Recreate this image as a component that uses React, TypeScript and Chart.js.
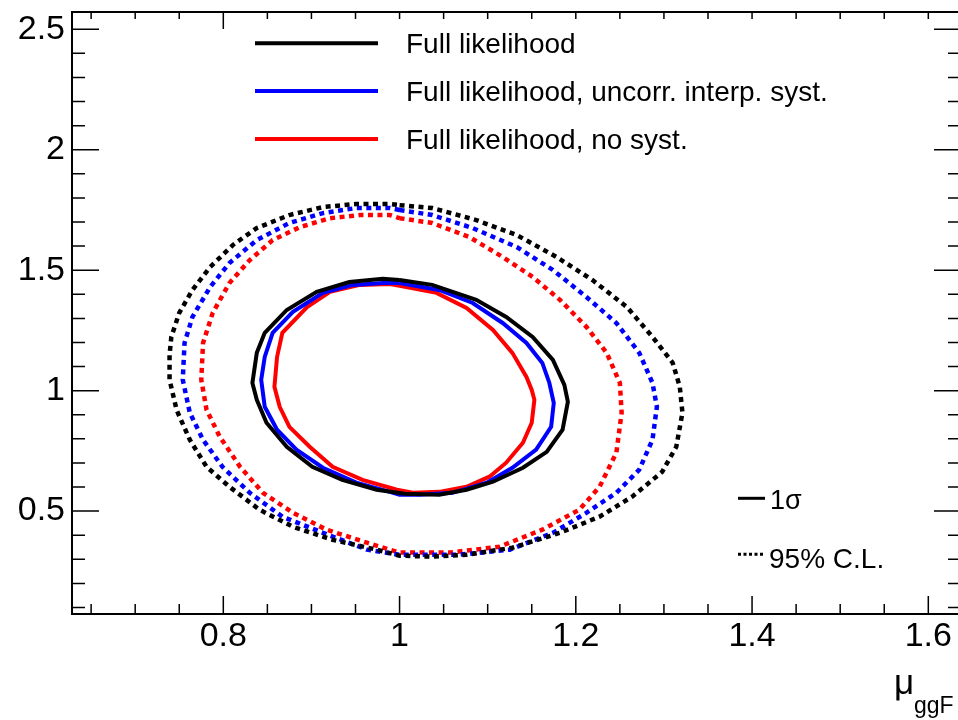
import React, { useEffect, useRef } from "react";
import { Chart, registerables } from "chart.js";

Chart.register(...registerables);

// ---------- axis ranges & ticks ----------
const X_MIN = 0.6283;
const X_MAX = 1.6371;
const Y_MIN = 0.073;
const Y_MAX = 2.5717;
const X_TICKS = [0.8, 1.0, 1.2, 1.4, 1.6];
const Y_TICKS = [0.5, 1.0, 1.5, 2.0, 2.5];
const X_MINOR_TICKS = [0.65, 0.7, 0.75, 0.8, 0.85, 0.9, 0.95, 1.0, 1.05, 1.1, 1.15, 1.2, 1.25, 1.3, 1.35, 1.4, 1.45, 1.5, 1.55, 1.6];
const Y_MINOR_TICKS = [0.1, 0.2, 0.3, 0.4, 0.5, 0.6, 0.7, 0.8, 0.9, 1.0, 1.1, 1.2, 1.3, 1.4, 1.5, 1.6, 1.7, 1.8, 1.9, 2.0, 2.1, 2.2, 2.3, 2.4, 2.5];
const TOP_LONG_TICKS = [0.8];

// ---------- legend ----------
const LEGEND_LABELS = [
  "Full likelihood",
  "Full likelihood, uncorr. interp. syst.",
  "Full likelihood, no syst.",
];
const SERIES_COLORS = ["#000000", "#0000ff", "#ff0000"];
const SOLID_LABEL = "1σ";
const DOTTED_LABEL = "95% C.L.";

// ---------- contours: full likelihood ----------
const FULL_1S_X = [1.000, 1.037, 1.087, 1.121, 1.151, 1.174, 1.187, 1.191, 1.185, 1.167, 1.140, 1.106, 1.076, 1.045, 1.006, 0.974, 0.935, 0.901, 0.872, 0.849, 0.838, 0.833, 0.838, 0.847, 0.872, 0.906, 0.943, 0.981];
const FULL_1S_Y = [1.459, 1.439, 1.377, 1.306, 1.223, 1.128, 1.024, 0.954, 0.838, 0.746, 0.680, 0.622, 0.589, 0.568, 0.572, 0.589, 0.630, 0.684, 0.767, 0.867, 0.962, 1.032, 1.157, 1.240, 1.335, 1.410, 1.451, 1.464];
const FULL_95_X = [1.000, 1.037, 1.087, 1.133, 1.178, 1.219, 1.258, 1.287, 1.310, 1.318, 1.321, 1.314, 1.298, 1.264, 1.227, 1.182, 1.128, 1.076, 1.037, 1.000, 0.974, 0.924, 0.879, 0.841, 0.807, 0.781, 0.762, 0.747, 0.739, 0.739, 0.741, 0.750, 0.765, 0.785, 0.811, 0.838, 0.875, 0.913, 0.951, 0.989];
const FULL_95_Y = [1.770, 1.758, 1.708, 1.646, 1.555, 1.459, 1.347, 1.223, 1.115, 1.016, 0.908, 0.767, 0.663, 0.560, 0.477, 0.410, 0.348, 0.319, 0.311, 0.315, 0.340, 0.381, 0.435, 0.506, 0.601, 0.684, 0.796, 0.920, 1.045, 1.148, 1.223, 1.323, 1.418, 1.513, 1.605, 1.675, 1.729, 1.762, 1.775, 1.775];

// ---------- contours: uncorrelated interpolation systematics ----------
const UNCORR_1S_X = [1.000, 1.045, 1.083, 1.117, 1.144, 1.162, 1.170, 1.175, 1.172, 1.155, 1.128, 1.099, 1.060, 1.023, 1.000, 0.989, 0.951, 0.913, 0.883, 0.861, 0.847, 0.843, 0.847, 0.856, 0.879, 0.913, 0.947, 0.981];
const UNCORR_1S_Y = [1.447, 1.418, 1.364, 1.281, 1.198, 1.115, 1.032, 0.949, 0.850, 0.755, 0.680, 0.618, 0.576, 0.568, 0.568, 0.580, 0.618, 0.680, 0.755, 0.838, 0.933, 1.045, 1.140, 1.240, 1.327, 1.406, 1.439, 1.447];
const UNCORR_95_X = [1.000, 1.037, 1.083, 1.133, 1.174, 1.212, 1.246, 1.272, 1.287, 1.292, 1.287, 1.272, 1.246, 1.212, 1.174, 1.125, 1.068, 1.000, 0.963, 0.913, 0.867, 0.830, 0.799, 0.777, 0.762, 0.754, 0.756, 0.765, 0.785, 0.807, 0.838, 0.875, 0.913, 0.951, 0.989];
const UNCORR_95_Y = [1.750, 1.729, 1.675, 1.596, 1.501, 1.389, 1.281, 1.157, 1.032, 0.933, 0.796, 0.672, 0.576, 0.493, 0.410, 0.340, 0.319, 0.319, 0.340, 0.410, 0.477, 0.576, 0.684, 0.796, 0.908, 1.045, 1.198, 1.306, 1.430, 1.530, 1.625, 1.696, 1.737, 1.758, 1.758];

// ---------- contours: no systematics ----------
const NOSYST_1S_X = [1.000, 1.042, 1.076, 1.106, 1.128, 1.144, 1.150, 1.153, 1.150, 1.140, 1.121, 1.102, 1.076, 1.045, 1.015, 0.997, 0.958, 0.924, 0.898, 0.875, 0.864, 0.858, 0.861, 0.867, 0.895, 0.921, 0.955, 0.989];
const NOSYST_1S_Y = [1.435, 1.406, 1.343, 1.252, 1.157, 1.057, 1.003, 0.962, 0.867, 0.784, 0.701, 0.643, 0.601, 0.580, 0.576, 0.589, 0.630, 0.684, 0.767, 0.850, 0.933, 1.016, 1.140, 1.240, 1.347, 1.410, 1.439, 1.443];
const NOSYST_95_X = [1.000, 1.037, 1.079, 1.117, 1.151, 1.182, 1.212, 1.235, 1.250, 1.252, 1.246, 1.227, 1.204, 1.162, 1.113, 1.057, 1.000, 0.963, 0.917, 0.879, 0.845, 0.819, 0.796, 0.781, 0.775, 0.777, 0.788, 0.807, 0.830, 0.856, 0.887, 0.921, 0.955, 0.989];
const NOSYST_95_Y = [1.716, 1.696, 1.638, 1.555, 1.472, 1.377, 1.265, 1.157, 1.032, 0.908, 0.742, 0.601, 0.506, 0.423, 0.352, 0.328, 0.328, 0.369, 0.423, 0.493, 0.576, 0.684, 0.809, 0.920, 1.045, 1.198, 1.323, 1.447, 1.542, 1.625, 1.679, 1.716, 1.729, 1.729];

const FONT = "'Liberation Sans', Arial, Helvetica, sans-serif";

function closedPoints(xs: number[], ys: number[]) {
  const pts = xs.map((x, i) => ({ x, y: ys[i] }));
  pts.push({ x: xs[0], y: ys[0] });
  return pts;
}

function contour(label: string, xs: number[], ys: number[], color: string, dotted: boolean) {
  return {
    label,
    data: closedPoints(xs, ys),
    showLine: true,
    borderColor: color,
    backgroundColor: color,
    borderWidth: dotted ? 4.5 : 4,
    borderDash: dotted ? [5, 4.5] : [],
    pointRadius: 0,
    pointHoverRadius: 0,
    tension: 0,
    fill: false,
  };
}

const near = (a: number, list: number[]) => list.some((t) => Math.abs(t - a) < 1e-6);

const rootFramePlugin = {
  id: "rootFrame",
  afterDatasetsDraw(chart: any) {
    const { ctx, chartArea: a, scales } = chart;
    const xs = scales.x;
    const ys = scales.y;
    ctx.save();
    ctx.strokeStyle = "#000";
    ctx.setLineDash([]);
    // ticks
    ctx.lineWidth = 1.5;
    ctx.beginPath();
    X_MINOR_TICKS.forEach((v) => {
      const px = xs.getPixelForValue(v);
      const lb = near(v, X_TICKS) ? 18 : 10;
      ctx.moveTo(px, a.bottom);
      ctx.lineTo(px, a.bottom - lb);
      const lt = near(v, TOP_LONG_TICKS) ? 17 : 7;
      ctx.moveTo(px, a.top);
      ctx.lineTo(px, a.top + lt);
    });
    Y_MINOR_TICKS.forEach((v) => {
      const py = ys.getPixelForValue(v);
      const l = near(v, Y_TICKS) ? 27 : 13;
      ctx.moveTo(a.left, py);
      ctx.lineTo(a.left + l, py);
      ctx.moveTo(a.right, py);
      ctx.lineTo(a.right - l, py);
    });
    ctx.stroke();
    // frame
    ctx.lineWidth = 2;
    ctx.strokeRect(a.left, a.top, a.right - a.left, a.bottom - a.top);

    // legend
    const legendY = [43.3, 91, 139];
    ctx.lineWidth = 4;
    LEGEND_LABELS.forEach((lab, i) => {
      ctx.strokeStyle = SERIES_COLORS[i];
      ctx.beginPath();
      ctx.moveTo(255, legendY[i]);
      ctx.lineTo(378, legendY[i]);
      ctx.stroke();
      ctx.fillStyle = "#000";
      ctx.font = `28px ${FONT}`;
      ctx.textAlign = "left";
      ctx.textBaseline = "alphabetic";
      ctx.fillText(lab, 406, legendY[i] + 9.5);
    });

    // style key
    ctx.strokeStyle = "#000";
    ctx.lineWidth = 3;
    ctx.beginPath();
    ctx.moveTo(738, 498.3);
    ctx.lineTo(765, 498.3);
    ctx.stroke();
    ctx.setLineDash([3, 2.5]);
    ctx.beginPath();
    ctx.moveTo(738, 554.3);
    ctx.lineTo(765, 554.3);
    ctx.stroke();
    ctx.setLineDash([]);
    ctx.fillStyle = "#000";
    ctx.font = `27px ${FONT}`;
    ctx.fillText(SOLID_LABEL, 770, 509);
    ctx.font = `28px ${FONT}`;
    ctx.fillText(DOTTED_LABEL, 769, 567.5);

    // axis title
    ctx.font = `35px ${FONT}`;
    ctx.fillText("μ", 894, 694);
    ctx.font = `23px ${FONT}`;
    ctx.fillText("ggF", 914, 713);
    ctx.restore();
  },
};

export default function App() {
  const ref = useRef<HTMLCanvasElement | null>(null);

  useEffect(() => {
    if (!ref.current) return;
    const fmt = (v: any) => String(+Number(v).toFixed(2));
    const chart = new Chart(ref.current, {
      type: "scatter",
      data: {
        datasets: [
          contour(LEGEND_LABELS[0] + " 1σ", FULL_1S_X, FULL_1S_Y, SERIES_COLORS[0], false),
          contour(LEGEND_LABELS[1] + " 1σ", UNCORR_1S_X, UNCORR_1S_Y, SERIES_COLORS[1], false),
          contour(LEGEND_LABELS[2] + " 1σ", NOSYST_1S_X, NOSYST_1S_Y, SERIES_COLORS[2], false),
          contour(LEGEND_LABELS[0] + " 95%", FULL_95_X, FULL_95_Y, SERIES_COLORS[0], true),
          contour(LEGEND_LABELS[1] + " 95%", UNCORR_95_X, UNCORR_95_Y, SERIES_COLORS[1], true),
          contour(LEGEND_LABELS[2] + " 95%", NOSYST_95_X, NOSYST_95_Y, SERIES_COLORS[2], true),
        ] as any,
      },
      options: {
        animation: false,
        responsive: false,
        maintainAspectRatio: false,
        devicePixelRatio: 1,
        layout: { padding: { left: 0, right: 3, top: 12, bottom: 0 } },
        plugins: {
          legend: { display: false },
          tooltip: { enabled: false },
          title: { display: false },
        },
        scales: {
          x: {
            type: "linear",
            min: X_MIN,
            max: X_MAX,
            grid: { display: false, drawTicks: false },
            border: { display: false },
            afterBuildTicks: (s: any) => {
              s.ticks = X_TICKS.map((v) => ({ value: v }));
            },
            afterFit: (s: any) => {
              s.height = 106;
              s.paddingLeft = 0;
              s.paddingRight = 0;
              s.paddingTop = 0;
              s.paddingBottom = 0;
            },
            ticks: {
              callback: fmt,
              color: "#000",
              padding: 2,
              maxRotation: 0,
              autoSkip: false,
              font: { family: FONT, size: 34 },
            },
          },
          y: {
            type: "linear",
            min: Y_MIN,
            max: Y_MAX,
            grid: { display: false, drawTicks: false },
            border: { display: false },
            afterBuildTicks: (s: any) => {
              s.ticks = Y_TICKS.map((v) => ({ value: v }));
            },
            afterFit: (s: any) => {
              s.width = 72;
              s.paddingLeft = 0;
              s.paddingRight = 0;
              s.paddingTop = 0;
              s.paddingBottom = 0;
            },
            ticks: {
              callback: fmt,
              color: "#000",
              padding: 7,
              autoSkip: false,
              font: { family: FONT, size: 34 },
            },
          },
        },
      } as any,
      plugins: [rootFramePlugin],
    });
    return () => chart.destroy();
  }, []);

  return (
    <div
      style={{
        position: "fixed",
        left: 0,
        top: 0,
        width: 958,
        height: 720,
        overflow: "hidden",
        background: "#fff",
      }}
    >
      <canvas ref={ref} width={964} height={720} style={{ display: "block" }} />
    </div>
  );
}
